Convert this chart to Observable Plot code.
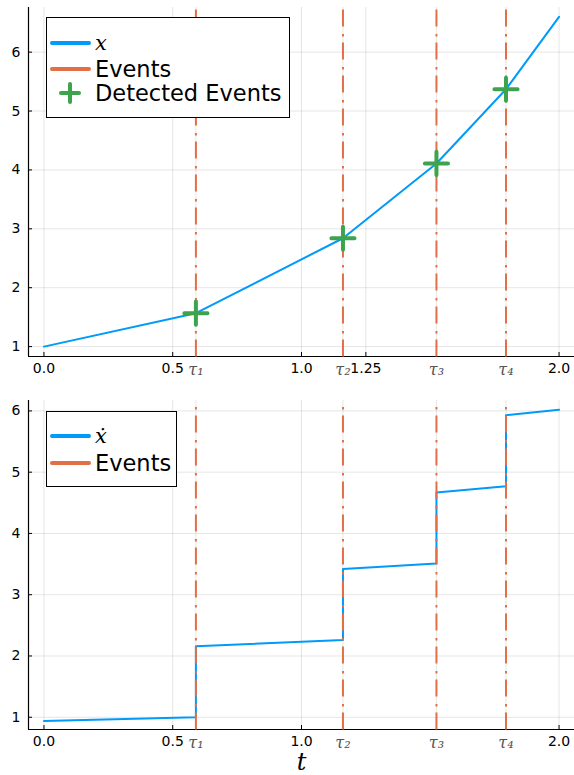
<!DOCTYPE html>
<html><head><meta charset="utf-8">
<script src="https://cdn.jsdelivr.net/npm/d3@7"></script>
<script src="https://cdn.jsdelivr.net/npm/@observablehq/plot@0.6"></script>
<style>
body{margin:0;background:#fff;}
#wrap{position:relative;width:574px;height:775px;overflow:hidden;}
.panel{position:absolute;left:0;}
.panel svg{display:block;overflow:visible;}
.leg{position:absolute;left:0;top:0;pointer-events:none;}
</style></head><body><div id="wrap"></div>
<script>
// ---- data ----
const events = [0.590, 1.161, 1.524, 1.794];
const tauLabels = ["τ₁", "τ₂", "τ₃", "τ₄"];
const tTop = [0, 0.590, 1.161, 1.524, 1.794, 2.0];
const xTop = [1.0, 1.568, 2.84, 4.11, 5.37, 6.60];
const detectedX = [1.568, 2.84, 4.11, 5.37];
const tBottom = [0, 0.590, 0.590, 1.161, 1.161, 1.524, 1.524, 1.794, 1.794, 2.0];
const dxBottom = [0.94, 1.00, 2.16, 2.26, 3.42, 3.51, 4.67, 4.77, 5.93, 6.02];
const xTicksTop = [0, 0.5, 1.0, 1.25, 2.0];
const xTicksBottom = [0, 0.5, 1.0, 2.0];
const yTicks = [1, 2, 3, 4, 5, 6];
const legendTop = ["x", "Events", "Detected Events"];
const legendBottom = ["ẋ", "Events"];
const xLabel = "t";

const BLUE = "#009af9", ORANGE = "#e26f46", GREEN = "#3da44d";
const xDomain = [-0.06, 2.06];
const yDomTop = [0.832, 6.758];
const yDomBot = [0.80, 6.17];

const topData = tTop.map((t, i) => ({t, v: xTop[i]}));
const botData = tBottom.map((t, i) => ({t, v: dxBottom[i]}));
const detData = events.map((t, i) => ({t, v: detectedX[i]}));

function fmt(d) { return d === 1.25 ? "1.25" : d.toFixed(1); }

function panel(opts) {
  const {height, marginTop, marginBottom, yDom, xTicks, data, detected, label} = opts;
  const marks = [
    Plot.gridX(xTicks.concat(events), {stroke: "#000", strokeOpacity: 0.1, strokeWidth: 1}),
    Plot.gridY(yTicks, {stroke: "#000", strokeOpacity: 0.1, strokeWidth: 1}),
    Plot.ruleX([xDomain[0]], {stroke: "#000", strokeWidth: 1.2}),
    Plot.ruleY([yDom[0]], {stroke: "#000", strokeWidth: 1.2}),
    Plot.axisY(yTicks, {label: null, tickSize: -4, tickPadding: 12, tickFormat: d => String(d), fontSize: 14, fontFamily: "DejaVu Sans", fill: "#000"}),
    Plot.axisX(xTicks, {label: null, tickSize: -4, tickPadding: 11, tickFormat: fmt, fontSize: 14, fontFamily: "DejaVu Sans", fill: "#000"}),
    Plot.axisX(events, {label: null, tickSize: 0, tickPadding: 7, tickFormat: d => tauLabels[events.indexOf(d)], fontSize: 16, fontFamily: "DejaVu Serif", fontStyle: "italic", fill: "#555"}),
    Plot.line(data, {x: "t", y: "v", stroke: BLUE, strokeWidth: 2}),
    Plot.link(events, {x1: d => d, x2: d => d, y1: () => yDom[0], y2: () => yDom[1], stroke: ORANGE, strokeWidth: 2, strokeDasharray: "17,6,2.5,7.5"})
  ];
  if (detected) marks.push(Plot.dot(detected, {x: "t", y: "v", symbol: "plus", r: 7.5, stroke: GREEN, strokeWidth: 4, strokeLinecap: "round"}));
  if (label) marks.push(Plot.text([label], {frameAnchor: "bottom", dy: 33, lineAnchor: "middle", fontSize: 24, fontFamily: "DejaVu Serif", fontStyle: "italic", fill: "#000"}));
  return Plot.plot({
    width: 574, height, marginTop, marginBottom, marginLeft: 28, marginRight: 0,
    style: {fontFamily: "DejaVu Sans", fontSize: "14px", color: "#000", background: "#fff", overflow: "visible"},
    x: {domain: xDomain, axis: null, label: null},
    y: {domain: yDom, axis: null, label: null},
    marks
  });
}

const wrap = document.getElementById("wrap");
const p1 = document.createElement("div"); p1.className = "panel"; p1.style.top = "0px";
p1.appendChild(panel({height: 388, marginTop: 7, marginBottom: 32, yDom: yDomTop, xTicks: xTicksTop, data: topData, detected: detData}));
const p2 = document.createElement("div"); p2.className = "panel"; p2.style.top = "388px";
p2.appendChild(panel({height: 387, marginTop: 12, marginBottom: 46, yDom: yDomBot, xTicks: xTicksBottom, data: botData, label: xLabel}));
wrap.appendChild(p1); wrap.appendChild(p2);

// ---- legends ----
const svg = d3.select(wrap).append("svg").attr("class", "leg").attr("width", 574).attr("height", 775);
function legend(box, names, rows) {
  svg.append("rect").attr("x", box[0]).attr("y", box[1]).attr("width", box[2]).attr("height", box[3])
    .attr("fill", "#fff").attr("stroke", "#000").attr("stroke-width", 1);
  names.forEach((name, i) => {
    const y = rows[i];
    const kind = i === 0 ? "line" : (i === 1 ? "event" : "cross");
    if (kind === "cross") {
      const g = svg.append("g").attr("stroke", GREEN).attr("stroke-width", 4).attr("stroke-linecap", "round");
      g.append("line").attr("x1", 61).attr("x2", 79).attr("y1", y).attr("y2", y);
      g.append("line").attr("x1", 70).attr("x2", 70).attr("y1", y - 9).attr("y2", y + 9);
    } else {
      svg.append("line").attr("x1", 52).attr("x2", 89).attr("y1", y).attr("y2", y)
        .attr("stroke", kind === "line" ? BLUE : ORANGE).attr("stroke-width", 4).attr("stroke-linecap", "round");
    }
    const tx = svg.append("text").attr("x", 95).attr("y", y).attr("dominant-baseline", "central")
      .attr("fill", "#000").text(name);
    if (i === 0) tx.attr("font-family", "DejaVu Serif").attr("font-style", "italic").attr("font-size", 21);
    else tx.attr("font-family", "DejaVu Sans").attr("font-size", 22.5);
  });
}
legend([46.5, 17.5, 243, 100], legendTop, [43, 69, 93]);
legend([46.5, 411.5, 130, 75], legendBottom, [436, 463]);
</script>
</body></html>
